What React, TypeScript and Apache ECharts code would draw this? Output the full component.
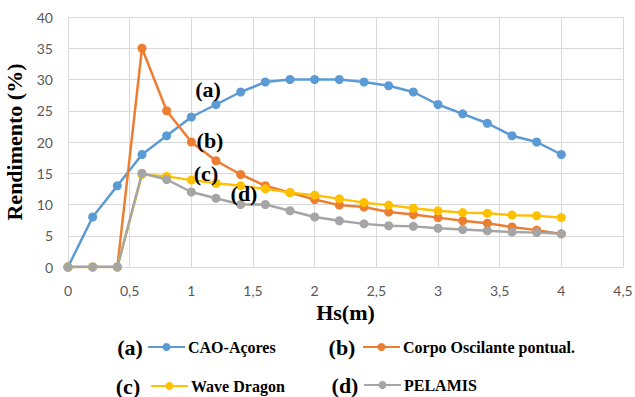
import React, { useEffect, useRef } from "react";
import * as echarts from "echarts";

const hs = [0, 0.2, 0.4, 0.6, 0.8, 1, 1.2, 1.4, 1.6, 1.8, 2, 2.2, 2.4, 2.6, 2.8, 3, 3.2, 3.4, 3.6, 3.8, 4];
const caoAcores = [0, 8, 13, 18, 21, 24, 26, 28, 29.6, 30, 30, 30, 29.6, 29, 28, 26, 24.5, 23, 21, 20, 18];
const corpoOscilante = [0, 0, 0, 35, 25, 20, 17, 14.8, 13, 11.9, 10.8, 9.9, 9.6, 8.8, 8.4, 7.9, 7.4, 7.0, 6.4, 5.9, 5.3];
const waveDragon = [0, 0, 0, 14.8, 14.5, 13.9, 13.4, 13, 12.5, 11.9, 11.5, 10.9, 10.3, 9.9, 9.4, 9.0, 8.7, 8.6, 8.3, 8.2, 7.9];
const pelamis = [0, 0, 0, 15, 14, 12, 11, 10, 10, 9, 8, 7.4, 6.9, 6.6, 6.5, 6.2, 6.0, 5.8, 5.6, 5.5, 5.3];

const names = ["CAO-Açores", "Corpo Oscilante pontual.", "Wave Dragon", "PELAMIS"];
const tags = ["(a)", "(b)", "(c)", "(d)"];
const colors = ["#5B9BD5", "#ED7D31", "#FFC000", "#A5A5A5"];

const SERIF = "'Liberation Serif', 'Times New Roman', serif";
const SANS = "Lato, 'Liberation Sans', sans-serif";

export default function App() {
  const ref = useRef<HTMLDivElement>(null);
  useEffect(() => {
    if (!ref.current) return;
    const chart = echarts.init(ref.current, null, { renderer: "svg" });
    const pairs = (ys: number[]) => hs.map((x, i) => [x, ys[i]]);
    const mkSeries = (idx: number, ys: number[]) => ({
      name: names[idx],
      type: "line",
      data: pairs(ys),
      symbol: "circle",
      symbolSize: 9,
      lineStyle: { width: 2.5, color: colors[idx] },
      itemStyle: { color: colors[idx] },
      z: 2 + idx,
    });
    const legendPos = [
      { left: 147, top: 339 },
      { left: 362, top: 339 },
      { left: 150, top: 378 },
      { left: 363, top: 377 },
    ];
    const legends = names.map((n, i) => ({
      data: [n],
      left: legendPos[i].left,
      top: legendPos[i].top,
      padding: 0,
      itemWidth: 37,
      itemHeight: 10,
      itemGap: 0,
      textStyle: {
        fontFamily: SERIF,
        fontWeight: "bold",
        fontSize: 16,
        lineHeight: 16,
        color: "#000",
        padding: [0, 0, 0, -2],
      },
    }));
    const legendTagPos = [
      [130, 347],
      [342, 347],
      [128, 386],
      [345, 385],
    ];
    const chartTagPos = [
      [208, 89],
      [210, 140],
      [206, 173],
      [244, 193],
    ];
    const tagText = (t: string, p: number[]) => ({
      type: "text",
      x: p[0],
      y: p[1],
      style: {
        text: t,
        fontFamily: SERIF,
        fontWeight: "bold",
        fontSize: 22,
        fill: "#000",
        align: "center",
        verticalAlign: "middle",
      },
      z: 100,
    });
    chart.setOption({
      animation: false,
      backgroundColor: "#fff",
      grid: { left: 68, top: 17, width: 555, height: 250, containLabel: false, outerBoundsMode: "none" },
      xAxis: {
        type: "value",
        min: 0,
        max: 4.5,
        interval: 0.5,
        name: "Hs(m)",
        nameLocation: "middle",
        nameGap: 34,
        nameTextStyle: { fontFamily: SERIF, fontWeight: "bold", fontSize: 22, color: "#000" },
        axisLine: { show: true, lineStyle: { color: "#D9D9D9", width: 1 } },
        axisTick: { show: false },
        axisLabel: {
          color: "#595959",
          fontFamily: SANS,
          fontSize: 14,
          margin: 16,
          formatter: (v: number) => String(v).replace(".", ","),
        },
        splitLine: { show: true, lineStyle: { color: "#D9D9D9", width: 1 } },
      },
      yAxis: {
        type: "value",
        min: 0,
        max: 40,
        interval: 5,
        name: "Rendimento (%)",
        nameLocation: "middle",
        nameGap: 41,
        nameRotate: 90,
        nameTextStyle: { fontFamily: SERIF, fontWeight: "bold", fontSize: 22, color: "#000" },
        axisLine: { show: true, lineStyle: { color: "#D9D9D9", width: 1 } },
        axisTick: { show: false },
        axisLabel: { color: "#595959", fontFamily: SANS, fontSize: 14, margin: 15 },
        splitLine: { show: true, lineStyle: { color: "#D9D9D9", width: 1 } },
      },
      legend: legends,
      series: [
        mkSeries(0, caoAcores),
        mkSeries(1, corpoOscilante),
        mkSeries(3, pelamis),
        mkSeries(2, waveDragon),
      ],
      graphic: [
        ...tags.map((t, i) => tagText(t, legendTagPos[i])),
        ...tags.map((t, i) => tagText(t, chartTagPos[i])),
      ],
    });
    return () => chart.dispose();
  }, []);
  return (
    <div
      ref={ref}
      style={{ position: "fixed", left: 0, top: 0, width: 635, height: 397, background: "#fff" }}
    />
  );
}
